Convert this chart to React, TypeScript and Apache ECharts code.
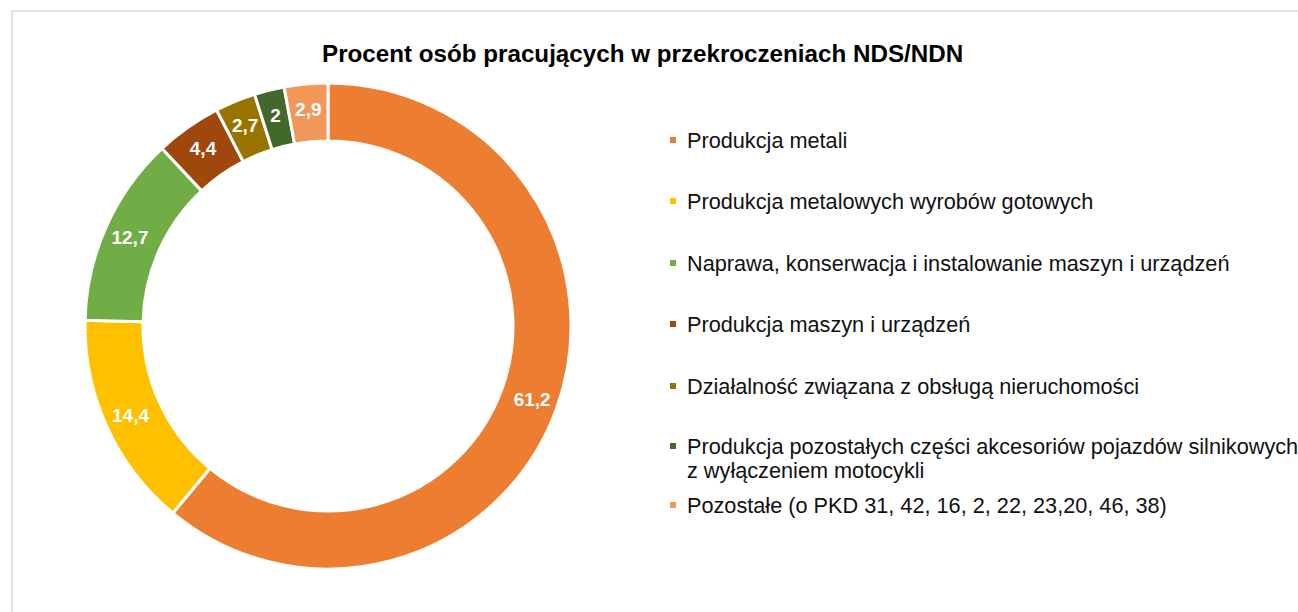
import React, { useEffect, useRef } from "react";
import * as echarts from "echarts";

const titleText = "Procent osób pracujących w przekroczeniach NDS/NDN";
const categories = [
  "Produkcja metali",
  "Produkcja metalowych wyrobów gotowych",
  "Naprawa, konserwacja i instalowanie maszyn i urządzeń",
  "Produkcja maszyn i urządzeń",
  "Działalność związana z obsługą nieruchomości",
  "Produkcja pozostałych części akcesoriów pojazdów silnikowych\nz wyłączeniem motocykli",
  "Pozostałe (o PKD 31, 42, 16, 2, 22, 23,20, 46, 38)",
];
const values = [61.2, 14.4, 12.7, 4.4, 2.7, 2, 2.9];
const colors = ["#ED7D31", "#FFC000", "#70AD47", "#9E480E", "#997300", "#43682B", "#F1975A"];

// legend row centres (layout)
const legendCenters = [140, 201, 263, 324, 386, 446, 505];

export default function App() {
  const ref = useRef<HTMLDivElement>(null);
  useEffect(() => {
    if (!ref.current) return;
    const chart = echarts.init(ref.current, undefined, { renderer: "svg" });
    const font = "Liberation Sans";
    const lh = 24;
    const legends = categories.map((name, i) => {
      const lines = name.split("\n").length;
      const multi = lines > 1;
      const boxH = multi ? lh * (lines + 1) : lh;
      return {
        show: true,
        orient: "vertical" as const,
        left: 668,
        top: legendCenters[i] - boxH / 2,
        padding: 0,
        icon: "rect",
        itemWidth: 8,
        itemHeight: 8,
        itemGap: 10,
        data: [name],
        formatter: (n: string) => (n.includes("\n") ? " \n" + n : n),
        textStyle: {
          fontFamily: font,
          fontSize: 21.7,
          color: "#111111",
          lineHeight: lh,
          padding: [0, 0, 0, 5],
        },
      };
    });
    chart.setOption({
      animation: false,
      backgroundColor: "#ffffff",
      color: colors,
      title: {
        text: titleText,
        left: 322,
        top: 41,
        padding: 0,
        textStyle: {
          fontFamily: font,
          fontWeight: "bold",
          fontSize: 24.2,
          color: "#000000",
        },
      },
      legend: legends,
      graphic: [
        {
          type: "rect",
          shape: { x: 12, y: 11, width: 1400, height: 700 },
          style: { fill: "none", stroke: "#d9d9d9", lineWidth: 1.5 },
          silent: true,
          z: -1,
        },
      ],
      series: [
        {
          type: "pie",
          center: [328, 326],
          radius: [185, 243],
          startAngle: 90,
          clockwise: true,
          avoidLabelOverlap: false,
          data: categories.map((name, i) => ({ name, value: values[i] })),
          itemStyle: { borderColor: "#ffffff", borderWidth: 3 },
          label: {
            show: true,
            position: "inside",
            formatter: (p: any) => String(p.value).replace(".", ","),
            fontFamily: font,
            fontWeight: "bold",
            fontSize: 19,
            color: "#ffffff",
          },
          labelLine: { show: false },
          emphasis: { scale: false },
        },
      ],
    });
    return () => chart.dispose();
  }, []);
  return (
    <div
      ref={ref}
      style={{ position: "fixed", left: 0, top: 0, width: 1298, height: 612 }}
    />
  );
}
